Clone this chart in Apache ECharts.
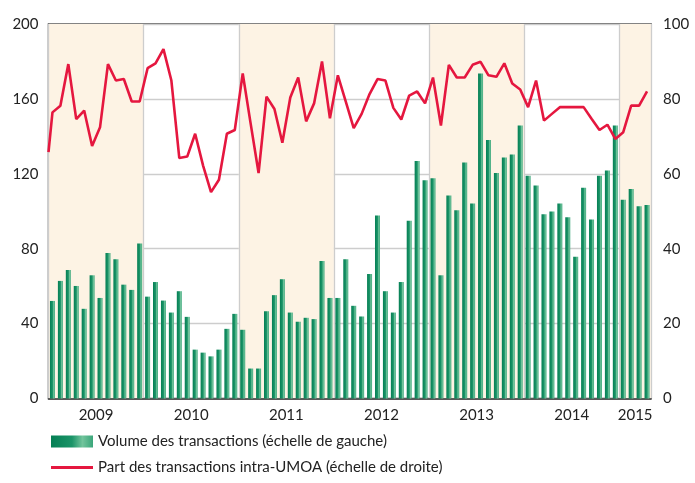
<!DOCTYPE html>
<html>
<head>
<meta charset="utf-8">
<script src="https://cdn.jsdelivr.net/npm/echarts@6/dist/echarts.min.js"></script>
<style>
  html, body { margin: 0; padding: 0; background: #fff; }
  #chart { width: 695px; height: 483px; }
</style>
</head>
<body>
<div id="chart"></div>
<script>
// données mensuelles, janvier 2009 - avril 2015
const years = ['2009', '2010', '2011', '2012', '2013', '2014', '2015']

const volume = [
  52.1, 62.8, 68.6, 60.1, 47.9, 65.8, 53.7, 77.7, 74.3, 60.8, 58, 82.8,
  54.4, 62.2, 52.3, 45.9, 57.3, 43.6, 26.1, 24.5, 22.5, 26.1, 37.2, 45.2,
  36.7, 16, 16, 46.6, 55.2, 63.7, 45.9, 41, 43.1, 42.4, 73.4, 53.7,
  53.7, 74.3, 49.5, 43.8, 66.5, 97.7, 57.3, 45.9, 62.2, 94.9, 126.8, 116.5,
  117.6, 65.8, 108.4, 100.5, 126.1, 104.1, 173.6, 138.1, 120.4, 128.7, 130.3, 145.8,
  119, 113.8, 98.4, 99.8, 104.1, 96.8, 75.7, 112.6, 95.6, 119, 121.8, 145.8,
  106.2, 111.9, 102.7, 103.4
]

const share = [
  76.4, 78.2, 89.3, 74.6, 76.9, 67.4, 72.4, 89.3, 84.9, 85.3, 79.3, 79.3,
  88.2, 89.5, 93.3, 84.9, 64.2, 64.6, 70.7, 62.2, 55.1, 58.4, 70.7, 71.7,
  86.8, 73.4, 60.2, 80.6, 77.3, 68.3, 80.4, 85.7, 74, 78.8, 90, 74.8,
  86.3, 79.3, 72.2, 76, 81.3, 85.3, 84.9, 77.6, 74.5, 80.9, 82, 78.8,
  85.7, 72.9, 89.1, 85.7, 85.7, 89.1, 89.9, 86.3, 85.9, 89.5, 84.1, 82.5,
  77.8, 84.9, 74.2, 76, 77.8, 77.8, 77.8, 77.8, 74.7, 71.7, 73.1, 69.3,
  71.1, 78.2, 78.2, 82
]
// valeur au bord gauche du graphique (fin 2008)
const shareStart = 65.8

const leftTicks = [0, 40, 80, 120, 160, 200]
const rightTicks = [0, 20, 40, 60, 80, 100]

const nMonths = volume.length
// milieu de chaque année sur l'axe des mois
const yearCenters = years.map((y, i) => Math.min(i * 12 + 6, (i * 12 + nMonths) / 2))

const font = 'Lato, "DejaVu Sans", sans-serif'
const volName = 'Volume des transactions (échelle de gauche)'
const shareName = 'Part des transactions intra-UMOA (échelle de droite)'

const chart = echarts.init(document.getElementById('chart'))

const option = {
  animation: false,
  grid: {
    left: 48.5,
    right: 44,
    top: 24,
    bottom: 84.5,
    show: true,
    borderColor: '#3a3a3a',
    borderWidth: 1.5,
    backgroundColor: 'transparent'
  },
  legend: {
    orient: 'vertical',
    left: 46,
    top: 429,
    itemWidth: 42,
    itemHeight: 12,
    itemGap: 11,
    textStyle: { fontFamily: font, fontSize: 15, color: '#222' },
    data: [
      { name: volName, icon: 'rect' },
      { name: shareName, icon: 'path://M0,0 L42,0 L42,3 L0,3 Z' }
    ]
  },
  xAxis: {
    type: 'value',
    min: 0,
    max: nMonths,
    interval: 12,
    axisLine: { show: true, lineStyle: { color: '#333', width: 1.5 } },
    axisTick: { show: false },
    axisLabel: {
      customValues: yearCenters,
      formatter: v => years[Math.floor(v / 12)],
      fontFamily: font,
      fontSize: 15,
      color: '#222',
      margin: 9
    },
    splitLine: { show: true, lineStyle: { color: '#cdcdcd', width: 1.3 } },
    splitArea: { show: true, areaStyle: { color: ['#fdf3e4', 'rgba(255,255,255,0)'] } }
  },
  yAxis: [
    {
      type: 'value',
      min: leftTicks[0],
      max: leftTicks[leftTicks.length - 1],
      interval: leftTicks[1] - leftTicks[0],
      axisLine: { show: false },
      axisTick: { show: false },
      axisLabel: { fontFamily: font, fontSize: 15, color: '#222', margin: 10 },
      splitLine: { show: true, lineStyle: { color: '#cdcdcd', width: 1.3 } }
    },
    {
      type: 'value',
      min: rightTicks[0],
      max: rightTicks[rightTicks.length - 1],
      interval: rightTicks[1] - rightTicks[0],
      axisLine: { show: false },
      axisTick: { show: false },
      axisLabel: { fontFamily: font, fontSize: 15, color: '#222', margin: 12 },
      splitLine: { show: false }
    }
  ],
  series: [
    {
      name: volName,
      type: 'bar',
      yAxisIndex: 0,
      barWidth: 5,
      itemStyle: {
        color: new echarts.graphic.LinearGradient(0, 0, 1, 0, [
          { offset: 0, color: '#057f54' },
          { offset: 0.5, color: '#1b9468' },
          { offset: 0.75, color: '#72c49c' },
          { offset: 1, color: '#3aa67a' }
        ])
      },
      data: volume.map((v, i) => [i + 0.5, v])
    },
    {
      name: shareName,
      type: 'line',
      yAxisIndex: 1,
      symbol: 'none',
      z: 5,
      lineStyle: { color: '#e5173f', width: 2.6 },
      itemStyle: { color: '#e5173f' },
      data: [[0, shareStart]].concat(share.map((v, i) => [i + 0.5, v]))
    }
  ]
}

chart.setOption(option)
</script>
</body>
</html>
